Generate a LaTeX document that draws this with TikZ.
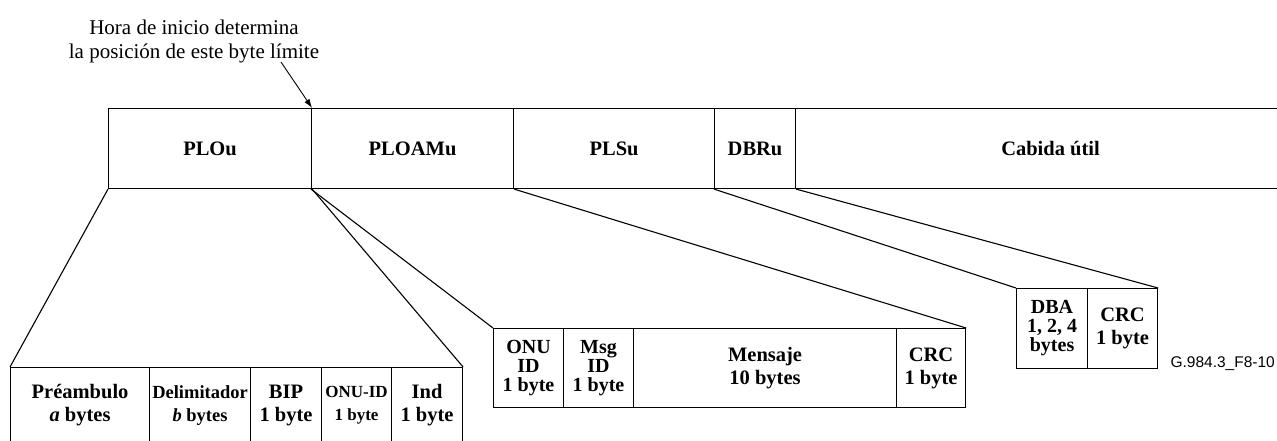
\documentclass[tikz,border=0pt]{standalone}
\usepackage{fontspec}
\setmainfont{Liberation Serif}
\newfontfamily\figsans{Liberation Sans}
\usetikzlibrary{arrows.meta}
\tikzset{
  cell/.style={draw, line width=1.1pt, inner sep=0pt, align=center, anchor=north west,
    font=\fontsize{20.5}{23}\selectfont\bfseries},
  tight/.style={font=\fontsize{20}{19}\selectfont\bfseries},
  small/.style={font=\fontsize{18.5}{23}\selectfont\bfseries},
  tiny/.style={font=\fontsize{17}{23}\selectfont\bfseries},
  conn/.style={line width=1.1pt},
}
\begin{document}
\begin{tikzpicture}[x=1pt,y=-1pt]
\useasboundingbox (0,0) rectangle (1277,441);
\clip (0,0) rectangle (1277,441);
% top row
\node[cell, minimum width=203pt, minimum height=80pt] (plou) at (108,108) {PLOu};
\node[cell, minimum width=202pt, minimum height=80pt] (ploamu) at (311,108) {PLOAMu};
\node[cell, minimum width=201pt, minimum height=80pt] (plsu) at (513,108) {PLSu};
\node[cell, minimum width=81pt, minimum height=80pt] (dbru) at (714,108) {DBRu};
\node[cell, minimum width=510pt, minimum height=80pt] (cabida) at (795,108) {Cabida útil};
% header note
\node[align=center, font=\fontsize{21}{24}\selectfont] (note) at (194,41)
  {Hora de inicio determina\\la posición de este byte límite};
\coordinate (arrstart) at (281,62);
\draw[conn, line width=0.9pt, -{Latex[length=9pt,width=6pt]}] (arrstart) -- (plou.north east);
% bottom-left row
\node[cell, minimum width=139pt, minimum height=76pt] (pre) at (10,367) {Préambulo\\\textit{a} bytes};
\node[cell, small, minimum width=101pt, minimum height=76pt] (del) at (149,367) {Delimitador\\\textit{b} bytes};
\node[cell, minimum width=71pt, minimum height=76pt] (bip) at (250,367) {BIP\\1 byte};
\node[cell, tiny, minimum width=70pt, minimum height=76pt] (onuid) at (321,367) {ONU-ID\\1 byte};
\node[cell, minimum width=71pt, minimum height=76pt] (ind) at (391,367) {Ind\\1 byte};
% middle row
\node[cell, tight, minimum width=70pt, minimum height=79pt] (onu) at (493,328) {ONU\\ID\\1 byte};
\node[cell, tight, minimum width=70pt, minimum height=79pt] (msg) at (563,328) {Msg\\ID\\1 byte};
\node[cell, minimum width=263pt, minimum height=79pt] (mens) at (633,328) {Mensaje\\10 bytes};
\node[cell, minimum width=69pt, minimum height=79pt] (crc) at (896,328) {CRC\\1 byte};
% right row
\node[cell, tight, minimum width=71pt, minimum height=80pt] (dba) at (1016,288) {DBA\\1, 2, 4\\bytes};
\node[cell, minimum width=70pt, minimum height=80pt] (crcb) at (1087,288) {CRC\\1 byte};
% expansion lines
\draw[conn] (plou.south west) -- (pre.north west);
\draw[conn] (plou.south east) -- (ind.north east);
\draw[conn] (ploamu.south west) -- (onu.north west);
\draw[conn] (ploamu.south east) -- (crc.north east);
\draw[conn] (dbru.south west) -- (dba.north west);
\draw[conn] (dbru.south east) -- (crcb.north east);
% figure id
\node[font=\figsans\fontsize{15.5}{16}\selectfont, anchor=base east, inner sep=0pt] (figid) at (1275,367) {G.984.3\_F8-10};
\end{tikzpicture}
\end{document}
